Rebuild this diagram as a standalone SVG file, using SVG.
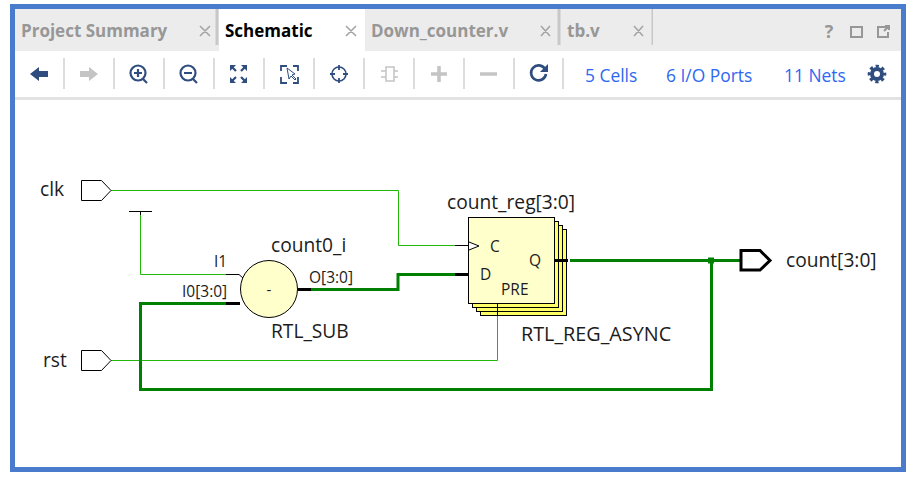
<svg xmlns="http://www.w3.org/2000/svg" width="918" height="485" viewBox="0 0 918 485">
<style>
text{font-family:"Open Sans","Noto Sans",sans-serif;fill:#1c1c1c}
.tab{font-size:17px;font-weight:700;fill:#979797}
.x{stroke:#a5a5a5;stroke-width:1.6;fill:none}
.sep{stroke:#d4d4d4;stroke-width:1.6}
.lnk{font-size:17.4px;fill:#2d68f0}
.lbl{font-size:19.2px}
.pin{font-size:15.5px}
.ic{fill:none;stroke:#2f4d7f;stroke-width:2.2}
.dis{fill:none;stroke:#c4c4c4;stroke-width:2.2}
.thin{fill:none;stroke:#22b80a;stroke-width:1}
.bus{fill:none;stroke:#008000;stroke-width:3}
.blk{fill:none;stroke:#000;stroke-width:1}
.blkb{fill:none;stroke:#000;stroke-width:3}
.port{fill:#fff;stroke:#000;stroke-width:1}
.ff{stroke:#000;stroke-width:1}
</style>
<rect width="918" height="485" fill="#fff"/>
<g id="toolbar">
<rect x="15" y="9" width="886" height="42" fill="#ececec"/>
<rect x="219" y="9" width="146" height="42" fill="#fff"/>
<rect x="215.500" y="9" width="3" height="36" fill="#c8c8c8"/>
<rect x="557.500" y="9" width="3" height="36" fill="#c8c8c8"/>
<rect x="651.500" y="9" width="1.500" height="36" fill="#c8c8c8"/>
<rect x="15" y="97" width="886" height="3" fill="#e3e3e3"/>
<text class="tab" x="21" y="37">Project Summary</text>
<text class="tab" x="225" y="37" style="fill:#000">Schematic</text>
<text class="tab" x="371" y="37">Down_counter.v</text>
<text class="tab" x="567" y="37">tb.v</text>
<path class="x" d="M200 26l10 10M210 26l-10 10M346 26l10 10M356 26l-10 10M541 26l9 10M550 26l-9 10M634 26l9 10M643 26l-9 10"/>
<text x="829" y="38" text-anchor="middle" style="font-size:18px;font-weight:700;fill:#979797">?</text>
<rect x="851" y="27" width="11" height="10" fill="none" stroke="#979797" stroke-width="2"/>
<path d="M888 27h-10v10h10v-5M884 31l5-5M885 26h4v4" fill="none" stroke="#979797" stroke-width="2"/>
<path class="sep" d="M64 58v31M114 58v31M164 58v31M214 58v31M264 58v31M314 58v31M364 58v31M414 58v31M464 58v31M514 58v31M563 58v31"/>
<path d="M30 74l9-7v4h9v6h-9v4z" fill="#2f4d7f"/>
<path d="M98 74l-9-7v4h-9v6h9v4z" fill="#c4c4c4"/>
<circle class="ic" cx="138" cy="73" r="7.500"/><path class="ic" d="M143 79l4 4M134 73h8M138 69v8"/>
<circle class="ic" cx="188" cy="73" r="7.500"/><path class="ic" d="M193 79l4 4M184 73h8"/>
<path class="ic" d="M231 66l5 5M246 66l-5 5M231 82l5-5M246 82l-5-5"/>
<path d="M230 65h6l-6 6zM247 65h-6l6 6zM230 83h6l-6-6zM247 83h-6l6-6z" fill="#2f4d7f"/>
<path d="M281 71v-5h6M298 71v-5h-5M281 77v6h6M298 77v6h-5" fill="none" stroke="#2f4d7f" stroke-width="1.800"/>
<path d="M287 68l2 11 2-3 4 4 1-1-4-4 3-1z" fill="#fff" stroke="#2f4d7f"/>
<circle class="ic" cx="339" cy="74" r="7" style="stroke-width:1.600"/><path class="ic" d="M339 65v5M339 78v5M330 74h5M343 74h5" style="stroke-width:1.800"/>
<path class="dis" d="M386 67h8v14h-8zM394 67v14M386 71h-5M386 77h-5M394 71h4M394 77h4" style="stroke-width:1.500"/>
<path d="M439 66v16M431 74h16" fill="none" stroke="#c4c4c4" stroke-width="3.500"/>
<path d="M480 74h17" fill="none" stroke="#c4c4c4" stroke-width="3.500"/>
<path d="M545 69a7.500 7.500 0 1 0 1 5" fill="none" stroke="#2f4d7f" stroke-width="2.600"/>
<path d="M540 72h8v-8z" fill="#2f4d7f"/>
<text class="lnk" x="585" y="82">5 Cells</text>
<text class="lnk" x="666" y="82">6 I/O Ports</text>
<text class="lnk" x="784" y="82">11 Nets</text>
<circle cx="877" cy="74" r="5" fill="none" stroke="#2f4d7f" stroke-width="4"/>
<circle cx="877" cy="74" r="7.800" fill="none" stroke="#2f4d7f" stroke-width="3" stroke-dasharray="3.200 2.930" stroke-dashoffset="1.600"/>
</g>
<g id="connectors">
<path class="thin" d="M111 190.500H398.500V245.500H469"/>
<path class="thin" d="M140.500 215V274.500H226"/>
<path class="thin" d="M111 360.500H497.500V316"/>
<path class="bus" d="M226 303.500H140.500V389.500H711.500V260.500H740"/>
<path class="bus" d="M311 289.500H398V274.500H455"/>
<path class="bus" d="M570 260.500H711"/>
<rect x="708" y="257.500" width="6" height="6" fill="#008000"/>
<path class="blk" d="M129 211.500H152M140.500 211.500V215"/>
<path class="blk" d="M226 274.500H239L243 278M455 245.500H469"/>
<path class="blkb" d="M226 303.500H240M298 289.500H311M455 274.500H469"/>
</g>
<g id="clk"><path class="port" d="M81.500 180.500H101.500L111 190.500L101.500 200.500H81.500Z"/><text class="lbl" x="40" y="196">clk</text></g>
<g id="rst"><path class="port" d="M81.500 350.500H101.500L111 360.500L101.500 370.500H81.500Z"/><text class="lbl" x="43" y="367">rst</text></g>
<g id="count"><path d="M741 250.500H760L770 260.500L760 270H741Z" fill="#fff" stroke="#000" stroke-width="3"/><text class="lbl" x="786" y="267">count[3:0]</text></g>
<g id="count0_i">
<circle cx="269" cy="289" r="28.500" fill="#ffffcc" stroke="#000"/>
<text x="269" y="295" text-anchor="middle" style="font-size:15px">-</text>
<text class="lbl" x="271" y="252">count0_i</text>
<text class="lbl" x="271" y="338">RTL_SUB</text>
<text class="pin" x="214" y="267">I1</text>
<text class="pin" x="182" y="297">I0[3:0]</text>
<text class="pin" x="309" y="283">O[3:0]</text>
</g>
<g id="count_reg">
<rect x="480.500" y="229.500" width="86" height="86" fill="#ffff66" class="ff"/>
<rect x="476.500" y="225.500" width="86" height="86" fill="#ffff66" class="ff"/>
<rect x="472.500" y="221.500" width="86" height="86" fill="#ffff66" class="ff"/>
<rect x="468.500" y="217.500" width="86" height="86" fill="#ffffcc" class="ff"/>
<path d="M469 242L479 246L469 250" fill="#fff" stroke="#000"/>
<path class="blkb" d="M555 260.500H568"/>
<path class="blk" d="M497.500 303V316"/>
<text class="lbl" x="447" y="209">count_reg[3:0]</text>
<text class="pin" x="490" y="252">C</text>
<text class="pin" x="480" y="280">D</text>
<text class="pin" x="529" y="266">Q</text>
<text class="pin" x="501" y="295">PRE</text>
<text class="lbl" x="521" y="341" style="font-size:19.8px">RTL_REG_ASYNC</text>
</g>
<rect x="12.500" y="6.500" width="891" height="463" fill="none" stroke="#4a7cce" stroke-width="5"/>
</svg>
